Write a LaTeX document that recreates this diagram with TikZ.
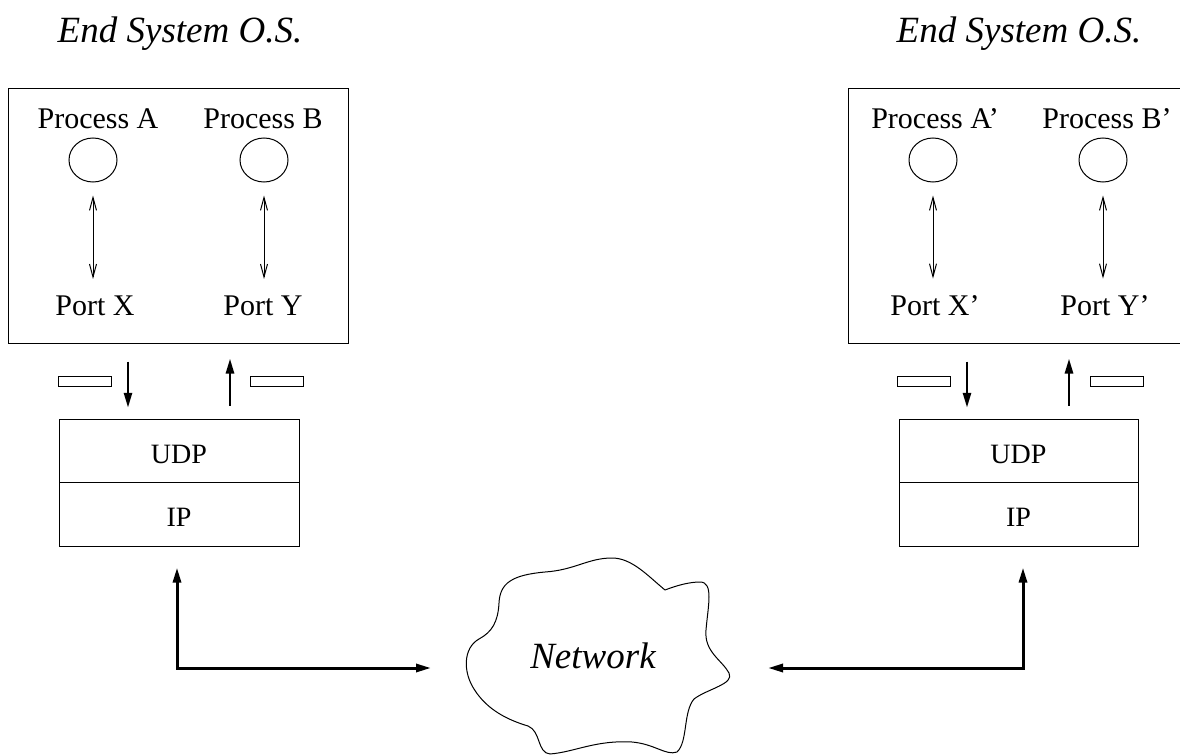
\documentclass[tikz,border=0pt]{standalone}
\usepackage{fontspec}
\setmainfont{Liberation Serif}
\usetikzlibrary{arrows.meta,shapes.geometric}
\begin{document}
\begin{tikzpicture}[x=0.5pt,y=-0.5pt,
 thinline/.style={line width=0.5pt},
 osbox/.style={draw, line width=0.5pt, inner sep=0pt, minimum height=127.5pt},
 proc/.style={font=\fontsize{15}{18}\selectfont, inner sep=0pt, anchor=base},
 ostitle/.style={font=\fontsize{18.5}{22}\selectfont\itshape, inner sep=0pt, anchor=base},
 proccircle/.style={draw, ellipse, line width=0.5pt, minimum width=24pt, minimum height=22pt, inner sep=0pt},
 dbl/.style={line width=0.5pt, {Straight Barb[length=6.5pt,width=3.5pt]}-{Straight Barb[length=6.5pt,width=3.5pt]}, shorten <=6.5pt, shorten >=8pt},
 layer/.style={draw, line width=0.5pt, minimum width=120pt, minimum height=31.75pt, inner sep=0pt, text height=12pt, text depth=0pt, font=\fontsize{14}{17}\selectfont},
 packet/.style={draw, line width=0.5pt, minimum width=26.5pt, minimum height=5pt, inner sep=0pt},
 flow/.style={line width=1.3pt, -{Triangle[length=7.5pt,width=4pt]}},
 link/.style={line width=1.5pt, {Triangle[length=7.5pt,width=4pt]}-{Triangle[length=7.5pt,width=4pt]}}
]
\useasboundingbox (0,0) rectangle (1180,755);

% titles
\node[ostitle] (tL) at (180,42) {End System O.S.};
\node[ostitle] (tR) at (1019,42) {End System O.S.};

% OS boxes
\node[osbox, minimum width=170pt] (osL) at (178,215.5) {};
\node[osbox, minimum width=166.5pt] (osR) at (1014.5,215.5) {};

% left processes
\node[proc] (pA) at (98,128) {Process A};
\node[proc] (pB) at (263,128) {Process B};
\node[proccircle] (cA) at (93,160) {};
\node[proccircle] (cB) at (264,160) {};
\node[proc] (pX) at (95,315) {Port X};
\node[proc] (pY) at (263,315) {Port Y};
\draw[dbl] (cA.south) -- (cA.south |- pX.north);
\draw[dbl] (cB.south) -- (cB.south |- pY.north);

% right processes
\node[proc] (pA2) at (935,128) {Process A'};
\node[proc] (pB2) at (1107,128) {Process B'};
\node[proccircle] (cA2) at (933,160) {};
\node[proccircle] (cB2) at (1103,160) {};
\node[proc] (pX2) at (935,315) {Port X'};
\node[proc] (pY2) at (1105,315) {Port Y'};
\draw[dbl] (cA2.south) -- (cA2.south |- pX2.north);
\draw[dbl] (cB2.south) -- (cB2.south |- pY2.north);

% protocol stacks
\node[layer] (udpL) at (179,451) {UDP};
\node[layer] (ipL) at (179,514.5) {IP};
\node[layer, minimum width=119.5pt] (udpR) at (1018.5,451) {UDP};
\node[layer, minimum width=119.5pt] (ipR) at (1018.5,514.5) {IP};

% packets
\node[packet] (pkL1) at (84.5,381) {};
\node[packet] (pkL2) at (277,381) {};
\node[packet] (pkR1) at (923.5,381) {};
\node[packet] (pkR2) at (1117,381) {};

% flow arrows
\coordinate (xdL) at (128,0);
\coordinate (xuL) at (230,0);
\coordinate (xdR) at (967,0);
\coordinate (xuR) at (1069,0);
\draw[flow, shorten <=9pt, shorten >=5.5pt] (xdL |- osL.south) -- (xdL |- udpL.north);
\draw[flow, shorten <=6.5pt, shorten >=7.5pt] (xuL |- udpL.north) -- (xuL |- osL.south);
\draw[flow, shorten <=9pt, shorten >=5.5pt] (xdR |- osR.south) -- (xdR |- udpR.north);
\draw[flow, shorten <=6.5pt, shorten >=7.5pt] (xuR |- udpR.north) -- (xuR |- osR.south);

% network cloud
\draw[thinline, line join=round]
 (665,590) .. controls (648,576) and (632,558) .. (612,558)
 .. controls (588,558) and (575,570) .. (545,572)
 .. controls (512,575) and (500,583) .. (499,603)
 .. controls (498,622) and (492,632) .. (479,639)
 .. controls (463,648) and (463,672) .. (474,689)
 .. controls (487,710) and (508,720) .. (528,726)
 .. controls (541,731) and (537,753) .. (550,754)
 .. controls (575,752) and (595,740) .. (632,742)
 .. controls (655,744) and (666,756) .. (677,752)
 .. controls (688,742) and (683,712) .. (694,699)
 .. controls (707,689) and (735,684) .. (729,673)
 .. controls (722,660) and (704,652) .. (706,630)
 .. controls (708,606) and (714,582) .. (700,582)
 .. controls (690,582) and (678,585) .. (665,590) -- cycle;
\node[ostitle] (net) at (593,668) {Network};

% links to network
\coordinate (xbL) at (177,0);
\coordinate (xbR) at (1023,0);
\coordinate (nL) at (431,668);
\coordinate (nR) at (768,668);
\draw[link, shorten <=10.4pt] (xbL |- ipL.south) |- (nL);
\draw[link, shorten <=10.4pt] (xbR |- ipR.south) |- (nR);
\end{tikzpicture}
\end{document}
